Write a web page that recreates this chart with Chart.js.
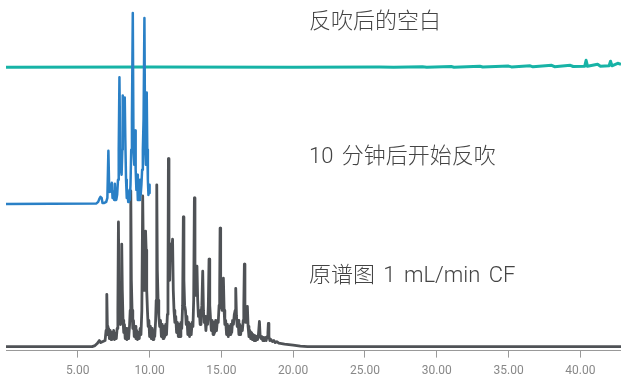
<!DOCTYPE html>
<html>
<head>
<meta charset="utf-8">
<script src="https://cdn.jsdelivr.net/npm/chart.js@4"></script>
<style>
  html, body { margin: 0; padding: 0; background: #fff; }
  #wrap { width: 621px; height: 379px; }
</style>
</head>
<body>
<div id="wrap"><canvas id="myChart" width="621" height="379"></canvas></div>
<script>
// retention time (min) and stacked signal for each trace
var grayTimes = [0, 6.0, 6.2, 6.35, 6.5, 6.6, 6.75, 6.9, 6.97, 7.02, 7.06, 7.1, 7.15, 7.2, 7.26, 7.32, 7.38, 7.44, 7.5, 7.56, 7.62, 7.68, 7.74, 7.79, 7.83, 7.87, 7.92, 7.97, 8.01, 8.06, 8.1, 8.15, 8.2, 8.25, 8.3, 8.36, 8.42, 8.48, 8.54, 8.6, 8.65, 8.69, 8.73, 8.78, 8.83, 8.88, 8.93, 8.99, 9.05, 9.1, 9.16, 9.22, 9.28, 9.34, 9.4, 9.46, 9.52, 9.57, 9.62, 9.67, 9.72, 9.76, 9.8, 9.85, 9.9, 9.95, 10.0, 10.06, 10.12, 10.18, 10.24, 10.3, 10.36, 10.42, 10.46, 10.5, 10.54, 10.59, 10.64, 10.7, 10.76, 10.82, 10.88, 10.94, 11.0, 11.06, 11.12, 11.18, 11.24, 11.28, 11.31, 11.35, 11.4, 11.45, 11.5, 11.55, 11.6, 11.65, 11.7, 11.76, 11.82, 11.88, 11.94, 12.0, 12.06, 12.12, 12.18, 12.24, 12.3, 12.35, 12.39, 12.44, 12.5, 12.55, 12.6, 12.66, 12.72, 12.78, 12.84, 12.9, 12.96, 13.02, 13.07, 13.12, 13.16, 13.21, 13.26, 13.3, 13.35, 13.4, 13.46, 13.52, 13.58, 13.64, 13.7, 13.75, 13.8, 13.86, 13.92, 13.98, 14.04, 14.09, 14.14, 14.19, 14.25, 14.3, 14.36, 14.42, 14.48, 14.54, 14.6, 14.66, 14.72, 14.78, 14.84, 14.88, 14.91, 14.95, 15.0, 15.05, 15.1, 15.14, 15.19, 15.24, 15.3, 15.36, 15.42, 15.48, 15.54, 15.6, 15.66, 15.72, 15.78, 15.84, 15.9, 15.96, 16.0, 16.05, 16.1, 16.16, 16.22, 16.28, 16.34, 16.4, 16.46, 16.52, 16.56, 16.6, 16.64, 16.69, 16.74, 16.78, 16.81, 16.86, 16.92, 16.98, 17.04, 17.1, 17.16, 17.22, 17.28, 17.34, 17.4, 17.46, 17.52, 17.58, 17.65, 17.7, 17.76, 17.82, 17.88, 17.94, 18.0, 18.06, 18.12, 18.18, 18.24, 18.27, 18.31, 18.38, 18.45, 18.55, 18.65, 18.75, 18.86, 19.0, 19.2, 19.4, 19.7, 20.0, 20.5, 21.0, 42.83];
var grayValues = [4, 4, 5, 7, 10, 8, 9, 10, 20, 56, 24, 16, 22, 12, 20, 11, 18, 12, 20, 11, 17, 12, 22, 40, 128, 60, 36, 26, 50, 106, 60, 30, 18, 26, 12, 22, 11, 20, 12, 24, 40, 159, 70, 40, 22, 30, 14, 24, 12, 20, 11, 18, 12, 22, 16, 40, 154, 90, 60, 70, 119, 100, 60, 40, 24, 30, 14, 24, 12, 22, 11, 20, 14, 30, 50, 165, 80, 50, 35, 24, 30, 14, 26, 12, 24, 14, 26, 16, 36, 60, 191, 90, 70, 106, 95, 100, 111, 60, 40, 28, 34, 18, 28, 14, 26, 14, 28, 22, 45, 133, 70, 45, 40, 26, 34, 16, 28, 14, 26, 16, 28, 24, 50, 152, 80, 55, 65, 84, 50, 34, 40, 26, 36, 45, 79, 40, 28, 34, 20, 30, 26, 45, 91, 45, 30, 20, 30, 16, 28, 18, 30, 20, 30, 28, 45, 60, 122, 70, 45, 40, 55, 72, 40, 26, 30, 16, 26, 14, 24, 16, 26, 18, 30, 26, 36, 40, 62, 35, 24, 30, 16, 26, 16, 24, 20, 30, 45, 86, 45, 28, 32, 30, 44, 24, 14, 20, 12, 18, 11, 16, 10, 15, 10, 14, 11, 16, 29, 14, 12, 14, 10, 13, 10, 13, 10, 14, 18, 27, 14, 10, 11, 9, 10, 8, 9, 7.5, 7, 6.5, 6, 5.5, 4.5, 4, 4];

var blueTimes = [0, 6.3, 6.42, 6.5, 6.58, 6.66, 6.72, 6.85, 6.98, 7.06, 7.13, 7.18, 7.23, 7.28, 7.33, 7.37, 7.42, 7.48, 7.53, 7.58, 7.63, 7.68, 7.74, 7.8, 7.85, 7.9, 7.95, 8.0, 8.05, 8.1, 8.13, 8.18, 8.22, 8.27, 8.31, 8.36, 8.41, 8.46, 8.51, 8.56, 8.62, 8.67, 8.72, 8.77, 8.83, 8.88, 8.93, 8.99, 9.03, 9.08, 9.13, 9.18, 9.23, 9.28, 9.33, 9.38, 9.43, 9.48, 9.53, 9.58, 9.64, 9.69, 9.74, 9.8, 9.84, 9.88, 9.92, 9.96, 10.0];
var blueValues = [146, 146.5, 148, 151, 153, 152, 147, 147, 148, 152, 199, 165, 158, 165, 160, 167, 152, 158, 150, 166, 152, 150, 155, 170, 200, 272, 200, 180, 175, 200, 254, 225, 235, 252, 210, 170, 152, 160, 148, 158, 150, 165, 200, 230, 336, 200, 185, 219, 180, 160, 175, 150, 165, 150, 170, 155, 165, 180, 200, 230, 331, 200, 185, 257, 200, 170, 155, 165, 157];

var tealTimes = [0, 10, 20, 26, 27, 29, 29.3, 31, 31.2, 33, 33.2, 35, 35.2, 36.5, 36.7, 38, 38.2, 39.3, 39.5, 40.3, 40.4, 40.5, 41.2, 41.4, 42.0, 42.1, 42.2, 42.6, 42.83];
var tealValues = [282, 282.2, 282, 282.2, 282, 282.6, 282, 282.8, 282.1, 283, 282.3, 283.2, 282.4, 283.5, 282.5, 284, 282.6, 284, 282.8, 283, 289, 283, 285, 283, 283.5, 288, 283.5, 286, 285];

var xTicks = [5, 10, 15, 20, 25, 30, 35, 40];
var traceLabels = ['反吹后的空白', '10 分钟后开始反吹', '原谱图 1 mL/min CF'];
var labelY = [22.5, 157.5, 276];

function toPoints(times, values){
    var pts = [];
    for(var i = 0; i < times.length; i++){
        pts.push({x: times[i], y: values[i]});
    }
    return pts;
}

var textPlugin = {
    id: 'traceText',
    afterDatasetsDraw: function(chart){
        var ctx = chart.ctx;
        ctx.save();
        ctx.fillStyle = '#444';
        ctx.font = '300 22px Roboto, "Noto Sans CJK SC", sans-serif';
        ctx.textBaseline = 'middle';
        ctx.textAlign = 'left';
        // spaces in the original are a bit wider than Roboto's
        if('wordSpacing' in ctx) ctx.wordSpacing = '3px';
        for(var i = 0; i < traceLabels.length; i++){
            ctx.fillText(traceLabels[i], 309, labelY[i]);
        }
        ctx.restore();
    }
};

var ctx = document.getElementById('myChart').getContext('2d');
var myChart = new Chart(ctx, {
    type: 'line',
    data: {
        datasets: [
            {data: toPoints(blueTimes, blueValues), borderColor: '#2a80c6', borderWidth: 2.5, order: 0},
            {data: toPoints(tealTimes, tealValues), borderColor: '#17b3a6', borderWidth: 3, order: 1},
            {data: toPoints(grayTimes, grayValues), borderColor: '#4f5256', borderWidth: 2.8, order: 2}
        ]
    },
    options: {
        responsive: false,
        animation: false,
        events: [],
        layout: {padding: {left: 6, right: 0, top: 0, bottom: -5}},
        elements: {
            point: {radius: 0},
            line: {tension: 0, borderJoinStyle: 'round', fill: false}
        },
        plugins: {legend: {display: false}, tooltip: {enabled: false}},
        scales: {
            x: {
                type: 'linear',
                min: 0,
                max: 42.83,
                afterBuildTicks: function(scale){
                    scale.ticks = xTicks.map(function(v){ return {value: v}; });
                },
                ticks: {
                    color: '#888',
                    font: {family: 'Roboto', size: 12},
                    padding: 6,
                    maxRotation: 0,
                    callback: function(v){ return v.toFixed(2); }
                },
                grid: {drawOnChartArea: false, tickLength: 7, color: '#999'},
                border: {color: '#999', width: 1}
            },
            y: {
                display: false,
                min: 0,
                max: 349
            }
        }
    },
    plugins: [textPlugin]
});
</script>
</body>
</html>
